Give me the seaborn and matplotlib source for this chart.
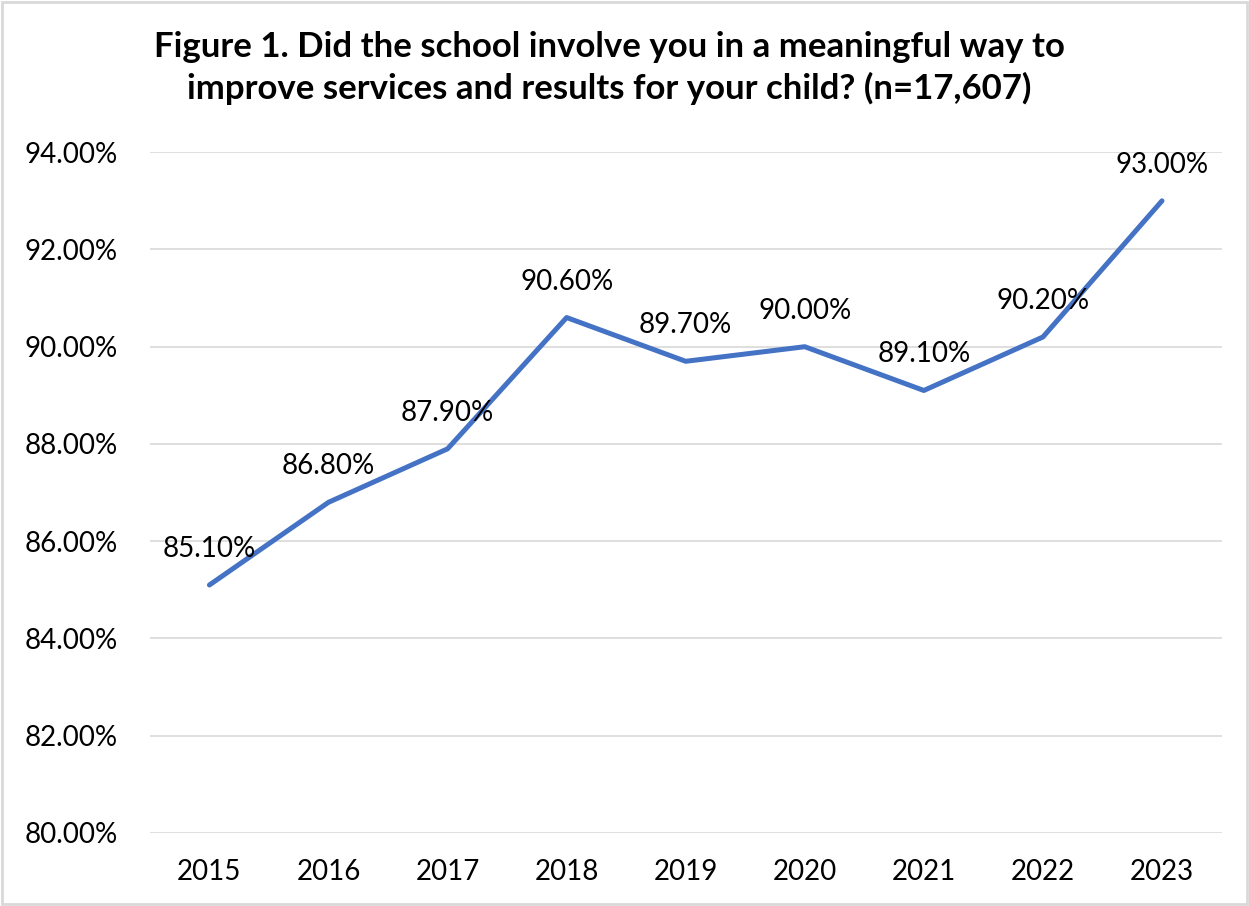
import matplotlib
matplotlib.use("Agg")
import matplotlib.pyplot as plt
import matplotlib.ticker as mticker
from matplotlib.patches import Rectangle
import pandas as pd
import seaborn as sns

# Survey results by year (percent answering yes)
years = ["2015", "2016", "2017", "2018", "2019", "2020", "2021", "2022", "2023"]
pct_yes = [85.10, 86.80, 87.90, 90.60, 89.70, 90.00, 89.10, 90.20, 93.00]
y_ticks = [80, 82, 84, 86, 88, 90, 92, 94]

title = ("Figure 1. Did the school involve you in a meaningful way to\n"
         "improve services and results for your child? (n=17,607)")

sns.set_theme(style="white")
plt.rcParams["font.family"] = ["Lato", "DejaVu Sans"]

df = pd.DataFrame({"year": years, "pct": pct_yes})

fig = plt.figure(figsize=(12.49, 9.06), dpi=100)
ax = fig.add_axes([0.120, 0.0806, 0.858, 0.7514])

sns.lineplot(data=df, x="year", y="pct", sort=False, ax=ax,
             color="#4472C4", linewidth=3.6, solid_capstyle="round")

ax.set_ylim(80, 94)
ax.set_xlim(-0.5, len(years) - 0.5)
ax.set_yticks(y_ticks)
ax.yaxis.set_major_formatter(mticker.FuncFormatter(lambda v, _: f"{v:.2f}%"))
ax.grid(axis="y", color="#D9D9D9", linewidth=1.2)
ax.grid(axis="x", visible=False)
ax.set_axisbelow(True)
for s in ax.spines.values():
    s.set_visible(False)
ax.set_xlabel("")
ax.set_ylabel("")
ax.tick_params(axis="y", length=0, pad=23, labelsize=20, labelcolor="#000000")
ax.tick_params(axis="x", length=0, pad=19, labelsize=20, labelcolor="#000000")

# Value labels above each point
for i, v in enumerate(pct_yes):
    ax.annotate(f"{v:.2f}%", xy=(i, v), xytext=(0, 36), textcoords="offset pixels",
                ha="center", va="center", fontsize=20, color="#000000")

fig.text(0.488, 0.925, title, ha="center", va="center", fontsize=25,
         fontweight="bold", color="#000000", linespacing=1.3)

# Light frame around the chart
fig.patches.append(Rectangle((0.002, 0.002), 0.996, 0.996, transform=fig.transFigure,
                             fill=False, edgecolor="#D9D9D9", linewidth=2))

fig.savefig("out.png", dpi=100, facecolor="white")
